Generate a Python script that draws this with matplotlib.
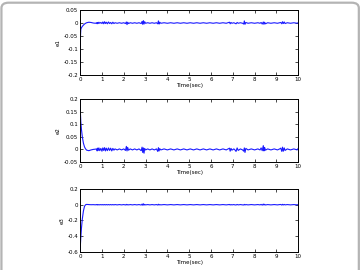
import numpy as np
import matplotlib.pyplot as plt
from matplotlib.patches import FancyBboxPatch
from matplotlib.ticker import FormatStrFormatter

plt.rcParams['axes.unicode_minus'] = False

# time samples (sec), one line per stretch: transient, bursts and quiet parts
time = [0, 0.01, 0.03, 0.06, 0.1, 0.15, 0.2, 0.25, 0.3, 0.4, 0.5, 0.6, 0.7,
        0.76, 0.78, 0.8, 0.83, 0.86, 0.9, 0.95, 1.0, 1.04, 1.08, 1.12, 1.16, 1.2, 1.25, 1.3, 1.35, 1.4, 1.45, 1.5, 1.55, 1.6,
        1.7, 1.8, 1.9, 2.0,
        2.08, 2.12, 2.15, 2.18, 2.22,
        2.3, 2.4, 2.5, 2.6, 2.7,
        2.8, 2.84, 2.87, 2.9, 2.93, 2.96,
        3.0, 3.1, 3.2, 3.3, 3.4, 3.5,
        3.56, 3.59, 3.62, 3.65,
        3.7, 3.85, 4.0, 4.15, 4.3, 4.45, 4.6, 4.75, 4.9, 5.05, 5.2, 5.35, 5.5, 5.65, 5.8, 5.95, 6.1, 6.25, 6.4, 6.55, 6.7,
        6.85, 6.88, 6.92, 6.96,
        7.05, 7.1,
        7.15, 7.2, 7.25,
        7.35, 7.45,
        7.5, 7.53, 7.56, 7.6,
        7.7, 7.85, 8.0, 8.15, 8.25,
        8.3, 8.35, 8.4, 8.43, 8.46, 8.5,
        8.6, 8.75, 8.9, 9.05, 9.15,
        9.2, 9.25, 9.28, 9.32, 9.36, 9.4,
        9.5, 9.65, 9.8, 9.95, 10.0]

e1 = [-0.2, -0.06, -0.025, -0.018, -0.013, -0.008, -0.004, -0.001, 0.001, 0.003, 0.002, 0.0, -0.001,
      0.001, -0.003, 0.002, -0.002, 0.003, -0.001, 0.002, -0.002, 0.004, -0.003, 0.005, -0.002, 0.003, -0.003, 0.004, -0.002, 0.002, -0.003, 0.003, -0.002, 0.001,
      -0.001, 0.001, -0.001, 0.001,
      -0.002, 0.004, -0.006, 0.003, -0.002,
      0.001, -0.001, 0.001, -0.001, 0.001,
      -0.002, 0.006, -0.005, 0.009, -0.004, 0.005,
      -0.001, 0.001, -0.001, 0.001, -0.001, 0.001,
      -0.003, 0.008, -0.004, 0.003,
      -0.001, 0.001, -0.001, 0.001, -0.001, 0.001, -0.001, 0.001, -0.001, 0.001, -0.001, 0.001, -0.001, 0.001, -0.001, 0.001, -0.001, 0.001, -0.001, 0.001, -0.001,
      0.003, -0.003, 0.002, -0.001,
      0.001, -0.001,
      -0.003, 0.002, -0.001,
      0.001, -0.001,
      -0.004, 0.008, -0.005, 0.002,
      -0.001, 0.001, -0.001, 0.001, -0.001,
      0.002, -0.004, 0.004, -0.005, 0.003, -0.003,
      0.001, -0.001, 0.001, -0.001, 0.001,
      0.002, -0.003, 0.005, -0.002, 0.004, -0.002,
      0.001, -0.001, 0.001, -0.001, 0.001]

e2 = [0.2, 0.15, 0.11, 0.08, 0.05, 0.025, 0.01, 0.002, -0.003, -0.005, -0.002, 0.0, 0.001,
      0.002, -0.006, 0.005, -0.004, 0.006, -0.005, 0.004, -0.007, 0.006, -0.004, 0.007, -0.006, 0.005, -0.005, 0.006, -0.004, 0.005, -0.006, 0.004, -0.003, 0.002,
      -0.002, 0.002, -0.002, 0.002,
      -0.004, 0.012, -0.006, 0.008, -0.003,
      0.002, -0.002, 0.002, -0.002, 0.002,
      -0.005, 0.009, -0.012, 0.006, -0.015, 0.004,
      -0.002, 0.002, -0.002, 0.002, -0.002, 0.002,
      -0.008, 0.007, -0.006, 0.003,
      -0.002, 0.002, -0.002, 0.002, -0.002, 0.002, -0.002, 0.002, -0.002, 0.002, -0.002, 0.002, -0.002, 0.002, -0.002, 0.002, -0.002, 0.002, -0.002, 0.002, -0.002,
      0.005, -0.007, 0.004, -0.003,
      0.002, -0.002,
      -0.008, 0.006, -0.004,
      0.002, -0.002,
      -0.007, 0.006, -0.012, 0.004,
      -0.002, 0.002, -0.002, 0.002, -0.002,
      0.006, -0.005, 0.015, -0.006, 0.008, -0.003,
      0.002, -0.002, 0.002, -0.002, 0.002,
      0.005, -0.008, 0.009, -0.007, 0.006, -0.004,
      0.002, -0.002, 0.002, -0.002, 0.004]

e3 = [-0.6, -0.52, -0.42, -0.3, -0.18, -0.08, -0.02, 0.0, 0.004, 0.002, 0.0, 0.001, -0.001,
      0.002, -0.002, 0.002, -0.002, 0.002, -0.002, 0.002, -0.002, 0.002, -0.002, 0.002, -0.002, 0.002, -0.002, 0.002, -0.002, 0.002, -0.002, 0.002, -0.002, 0.002,
      -0.002, 0.002, -0.002, 0.002,
      -0.003, 0.004, -0.003, 0.002, -0.002,
      0.002, -0.002, 0.002, -0.002, 0.002,
      -0.004, 0.008, -0.006, 0.012, -0.005, 0.004,
      -0.002, 0.002, -0.002, 0.002, -0.002, 0.002,
      -0.004, 0.006, -0.003, 0.002,
      -0.002, 0.002, -0.002, 0.002, -0.002, 0.002, -0.002, 0.002, -0.002, 0.002, -0.002, 0.002, -0.002, 0.002, -0.002, 0.002, -0.002, 0.002, -0.002, 0.002, -0.002,
      0.003, -0.003, 0.002, -0.002,
      0.002, -0.002,
      -0.003, 0.003, -0.002,
      0.002, -0.002,
      -0.003, 0.004, -0.003, 0.002,
      -0.002, 0.002, -0.002, 0.002, -0.002,
      0.004, -0.005, 0.008, -0.004, 0.005, -0.003,
      0.002, -0.002, 0.002, -0.002, 0.002,
      0.003, -0.004, 0.005, -0.003, 0.004, -0.002,
      0.002, -0.002, 0.002, -0.002, 0.002]

series = [('e1', e1, (-0.2, 0.05), [-0.2, -0.15, -0.1, -0.05, 0, 0.05]),
          ('e2', e2, (-0.05, 0.2), [-0.05, 0, 0.05, 0.1, 0.15, 0.2]),
          ('e3', e3, (-0.6, 0.2), [-0.6, -0.4, -0.2, 0, 0.2])]
xticks = [0, 1, 2, 3, 4, 5, 6, 7, 8, 9, 10]

fig = plt.figure(figsize=(3.61, 2.70), dpi=100)

# light grey rounded frame around the whole figure
frame = FancyBboxPatch((0.004, -0.05), 0.99, 1.04, boxstyle='round,pad=0,rounding_size=0.02',
                       transform=fig.transFigure, fill=False, edgecolor='#b4b4b4', linewidth=1.6)
fig.patches.append(frame)

bottoms = [0.722, 0.40, 0.067]
heights = [0.241, 0.233, 0.233]
for (name, vals, ylim, yticks), b, h in zip(series, bottoms, heights):
  ax = fig.add_axes([0.222, b, 0.604, h])
  ax.plot(time, vals, color='#1a1aff', linewidth=0.8)
  ax.set_xlim(0, 10)
  ax.set_ylim(*ylim)
  ax.set_xticks(xticks)
  ax.set_yticks(yticks)
  ax.yaxis.set_major_formatter(FormatStrFormatter('%g'))
  ax.tick_params(direction='in', length=2, width=0.5, labelsize=4, pad=1.5,
                 top=True, right=True)
  for s in ax.spines.values():
    s.set_linewidth(0.7)
  ax.set_xlabel('Time(sec)', fontsize=4, labelpad=0.5)
  ax.set_ylabel(name, fontsize=4, labelpad=2)

fig.savefig('out.png', dpi=100)
